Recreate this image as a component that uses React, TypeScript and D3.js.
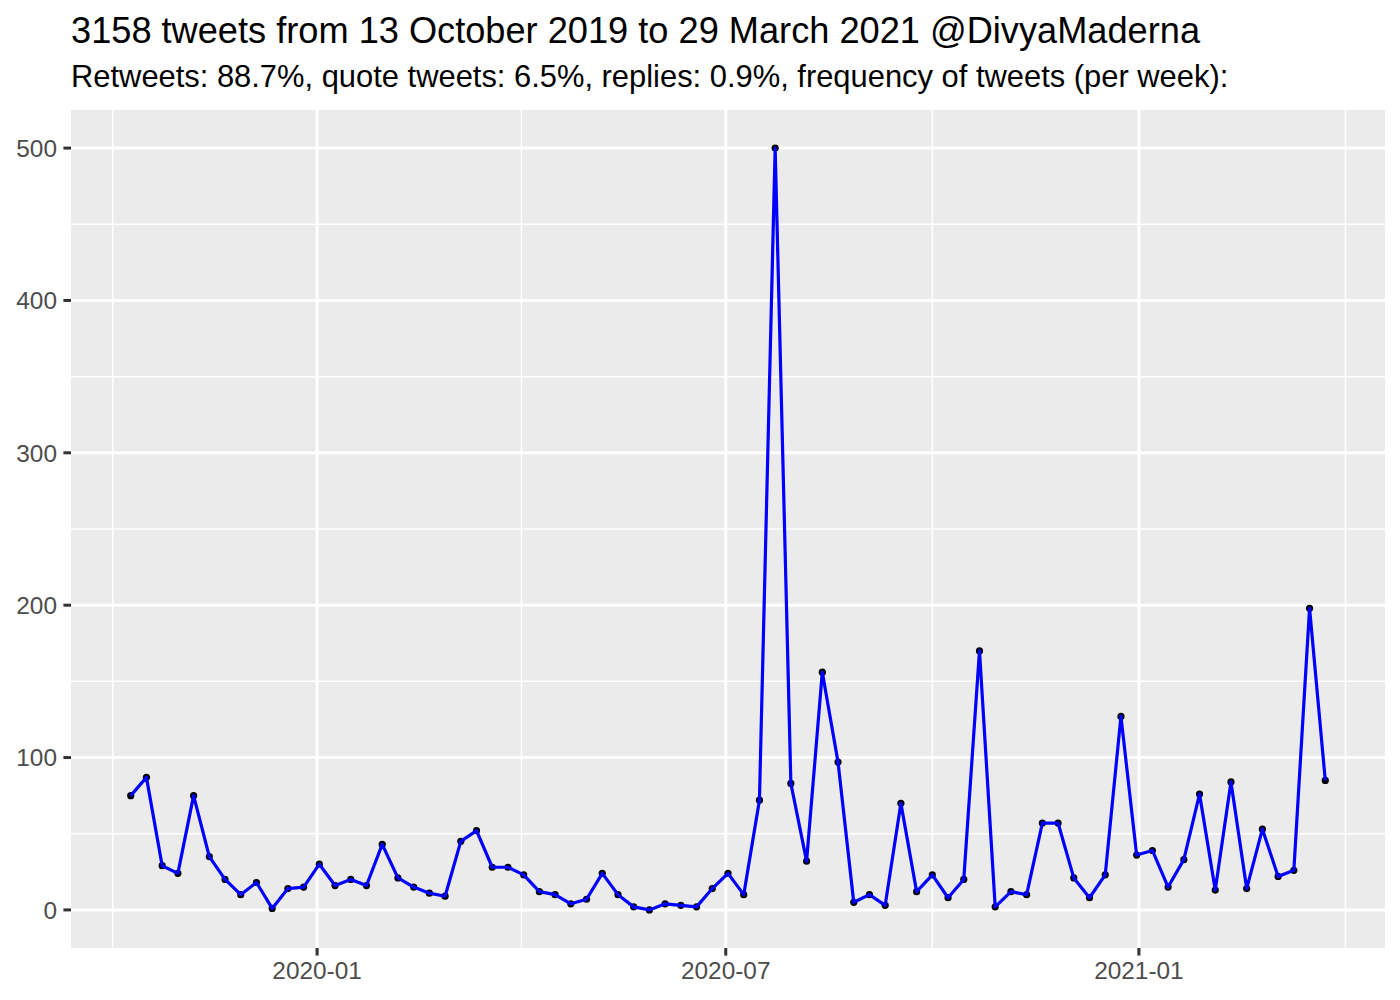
import React from "react";
import * as d3 from "d3";

const TITLE = "3158 tweets from 13 October 2019 to 29 March 2021 @DivyaMaderna";
const SUBTITLE = "Retweets: 88.7%, quote tweets: 6.5%, replies: 0.9%, frequency of tweets (per week):";

const START_WEEK = "2019-10-10";
const weeklyTweets = [
  75, 87, 29, 24, 75, 35, 20, 10, 18, 1,
  14, 15, 30, 16, 20, 16, 43, 21, 15, 11,
  9, 45, 52, 28, 28, 23, 12, 10, 4, 7,
  24, 10, 2, 0, 4, 3, 2, 14, 24, 10,
  72, 500, 83, 32, 156, 97, 5, 10, 3, 70,
  12, 23, 8, 20, 170, 2, 12, 10, 57, 57,
  21, 8, 23, 127, 36, 39, 15, 33, 76, 13,
  84, 14, 53, 22, 26, 198, 85,
];
const xTickDates = ["2020-01-01", "2020-07-01", "2021-01-01"];
const xTickLabels = ["2020-01", "2020-07", "2021-01"];
const yTicks = [0, 100, 200, 300, 400, 500];

const W = 1400;
const H = 1000;
const PL = 71;
const PR = 1385;
const PT = 110;
const PB = 948;
const FONT = "'Liberation Sans', Arial, Helvetica, sans-serif";

export default function App() {
  const start = new Date(START_WEEK + "T00:00:00Z");
  const data = weeklyTweets.map((v, i) => ({ date: d3.utcDay.offset(start, 7 * i), value: v }));
  const [dMin, dMax] = d3.extent(data, (d) => d.date) as [Date, Date];
  const span = +dMax - +dMin;
  const x = d3
    .scaleUtc()
    .domain([new Date(+dMin - span * 0.05), new Date(+dMax + span * 0.05)])
    .range([PL, PR]);
  const yMax = d3.max(weeklyTweets) as number;
  const yMin = 0;
  const ySpan = yMax - yMin;
  const y = d3
    .scaleLinear()
    .domain([yMin - ySpan * 0.05, yMax + ySpan * 0.05])
    .range([PB, PT]);

  const majors = xTickDates.map((s) => +new Date(s + "T00:00:00Z"));
  const xMinor: number[] = [];
  xMinor.push(majors[0] - (majors[1] - majors[0]) / 2);
  for (let i = 0; i < majors.length - 1; i++) xMinor.push((majors[i] + majors[i + 1]) / 2);
  xMinor.push(majors[majors.length - 1] + (majors[majors.length - 1] - majors[majors.length - 2]) / 2);

  const yMinor = yTicks.slice(0, -1).map((t, i) => (t + yTicks[i + 1]) / 2);

  const line = d3
    .line<{ date: Date; value: number }>()
    .x((d) => x(d.date))
    .y((d) => y(d.value));

  return (
    <svg
      width={W}
      height={H}
      style={{ position: "absolute", left: 0, top: 0, background: "#fff" }}
      fontFamily={FONT}
    >
      <rect x={0} y={0} width={W} height={H} fill="#fff" />
      <text x={PL} y={43} fontSize={36.2} fill="#000">
        {TITLE}
      </text>
      <text x={PL} y={87} fontSize={30.9} fill="#000">
        {SUBTITLE}
      </text>
      <rect x={PL} y={PT} width={PR - PL} height={PB - PT} fill="#EBEBEB" />
      {yMinor.map((t) => (
        <line key={"ym" + t} x1={PL} x2={PR} y1={y(t)} y2={y(t)} stroke="#fff" strokeWidth={1.5} />
      ))}
      {xMinor.map((t) => (
        <line key={"xm" + t} x1={x(new Date(t))} x2={x(new Date(t))} y1={PT} y2={PB} stroke="#fff" strokeWidth={1.5} />
      ))}
      {yTicks.map((t) => (
        <line key={"yM" + t} x1={PL} x2={PR} y1={y(t)} y2={y(t)} stroke="#fff" strokeWidth={3} />
      ))}
      {majors.map((t) => (
        <line key={"xM" + t} x1={x(new Date(t))} x2={x(new Date(t))} y1={PT} y2={PB} stroke="#fff" strokeWidth={3} />
      ))}
      {data.map((d, i) => (
        <circle key={"p" + i} cx={x(d.date)} cy={y(d.value)} r={3.6} fill="#000" />
      ))}
      <path d={line(data) || ""} fill="none" stroke="#0000FF" strokeWidth={3.2} strokeLinejoin="round" />
      {yTicks.map((t) => (
        <g key={"yt" + t}>
          <line x1={PL - 7.6} x2={PL} y1={y(t)} y2={y(t)} stroke="#333" strokeWidth={3} />
          <text x={PL - 14} y={y(t)} dy="0.36em" textAnchor="end" fontSize={24.4} fill="#4D4D4D">
            {t}
          </text>
        </g>
      ))}
      {majors.map((t, i) => (
        <g key={"xt" + t}>
          <line x1={x(new Date(t))} x2={x(new Date(t))} y1={PB} y2={PB + 7.6} stroke="#333" strokeWidth={3} />
          <text x={x(new Date(t))} y={979} textAnchor="middle" fontSize={24.4} fill="#4D4D4D">
            {xTickLabels[i]}
          </text>
        </g>
      ))}
    </svg>
  );
}
